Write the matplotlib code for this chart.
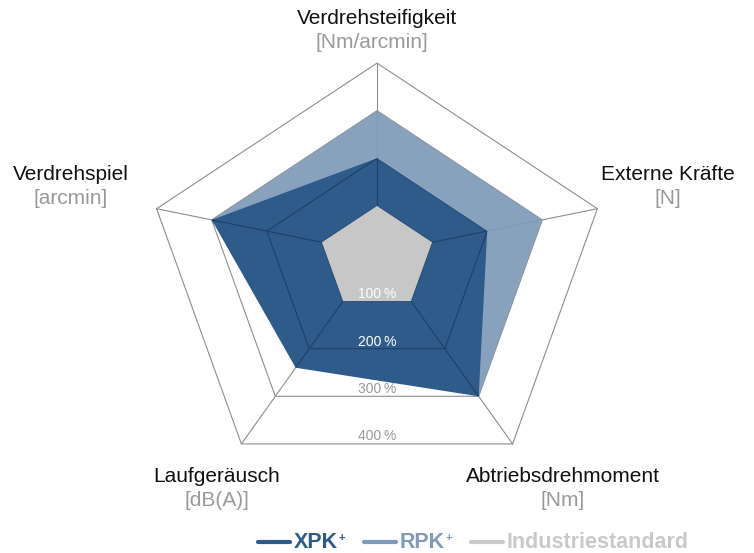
import matplotlib.pyplot as plt
from matplotlib.patches import Polygon
from matplotlib.lines import Line2D
import numpy as np

plt.rcParams['font.family'] = ['Liberation Sans', 'DejaVu Sans']

# axis order: top, right, bottom right, bottom left, left
categories = ['Verdrehsteifigkeit', 'Externe Kräfte', 'Abtriebsdrehmoment',
              'Laufgeräusch', 'Verdrehspiel']
units = ['[Nm/arcmin]', '[N]', '[Nm]', '[dB(A)]', '[arcmin]']
xpk = [200, 200, 300, 240, 300]
rpk = [300, 300, 300, 200, 300]
industry = [100, 100, 100, 100, 100]
grid_levels = [100, 200, 300, 400]
grid_labels = ['100\u2009%', '200\u2009%', '300\u2009%', '400\u2009%']

# layout (pixel space), spokes per 100 % (slightly tilted pentagon as in the original)
center = np.array([377.0, 253.5])
spokes = np.array([[0.0, -47.6], [55.1, -11.2], [33.9, 47.6],
                   [-33.9, 47.6], [-55.1, -11.2]])
label_pos = [(377, 19), (668, 175), (563, 476), (217, 476), (71, 175)]
unit_pos = [(372, 43), (668, 199), (563, 500), (217, 500), (71, 199)]

c_xpk = '#2f5b8b'
c_rpk = '#7f9bb9'
c_ind = '#c6c7c6'
c_grid = '#8e8e8e'


def pts(values):
    v = np.asarray(values, dtype=float)[:, None] / 100.0
    return center + spokes * v


fig = plt.figure(figsize=(7.54, 5.53), dpi=100)
ax = fig.add_axes([0, 0, 1, 1])
ax.set_xlim(0, 754)
ax.set_ylim(553, 0)
ax.axis('off')

# grid
for lvl in grid_levels:
    p = pts([lvl] * 5)
    ax.add_patch(Polygon(p, closed=True, fill=False, ec=c_grid, lw=0.8, zorder=1))
outer = pts([grid_levels[-1]] * 5)
for x, y in outer:
    ax.plot([center[0], x], [center[1], y], color=c_grid, lw=0.8, zorder=1)

# series
ax.add_patch(Polygon(pts(rpk), closed=True, fc=c_rpk, ec='none', alpha=0.93, zorder=2))
xpk_poly = Polygon(pts(xpk), closed=True, fc=c_xpk, ec='none', zorder=3)
ax.add_patch(xpk_poly)

# darker grid inside XPK
for lvl in grid_levels:
    p = pts([lvl] * 5)
    g = Polygon(p, closed=True, fill=False, ec='#1d3f68', lw=0.8, zorder=4)
    ax.add_patch(g)
    g.set_clip_path(xpk_poly)
for x, y in outer:
    ln, = ax.plot([center[0], x], [center[1], y], color='#1d3f68', lw=0.8, zorder=4)
    ln.set_clip_path(xpk_poly)

ax.add_patch(Polygon(pts(industry), closed=True, fc=c_ind, ec='none', zorder=5))

# level labels
label_y = [294, 342, 389, 436]
for lvl, txt, y in zip(grid_levels, grid_labels, label_y):
    col = 'white' if lvl <= 200 else '#9a9a9a'
    ax.text(377, y, txt, ha='center', va='center', fontsize=10, color=col, zorder=6)

# axis labels
for name, unit, lp, up in zip(categories, units, label_pos, unit_pos):
    ax.text(lp[0], lp[1], name, ha='center', va='center', fontsize=15, color='#111111')
    ax.text(up[0], up[1], unit, ha='center', va='center', fontsize=15, color='#9a9a9a')

# legend
legend_items = [('XPK', '+', c_xpk, 258), ('RPK', '+', c_rpk, 364),
                ('Industriestandard', '', '#c9c9c9', 471)]
for name, sup, col, x0 in legend_items:
    ax.add_line(Line2D([x0, x0 + 32], [542, 542], color=col, lw=3, solid_capstyle='round'))
    t = ax.text(x0 + 36, 543, name, ha='left', va='center', fontsize=15.5,
                fontweight='bold', color=col)
    if sup:
        fig.canvas.draw()
        bb = t.get_window_extent().transformed(ax.transData.inverted())
        ax.text(bb.x1 + 0.5, 538, sup, ha='left', va='center', fontsize=8,
                fontweight='bold', color=col)

fig.savefig('out.png', dpi=100)
